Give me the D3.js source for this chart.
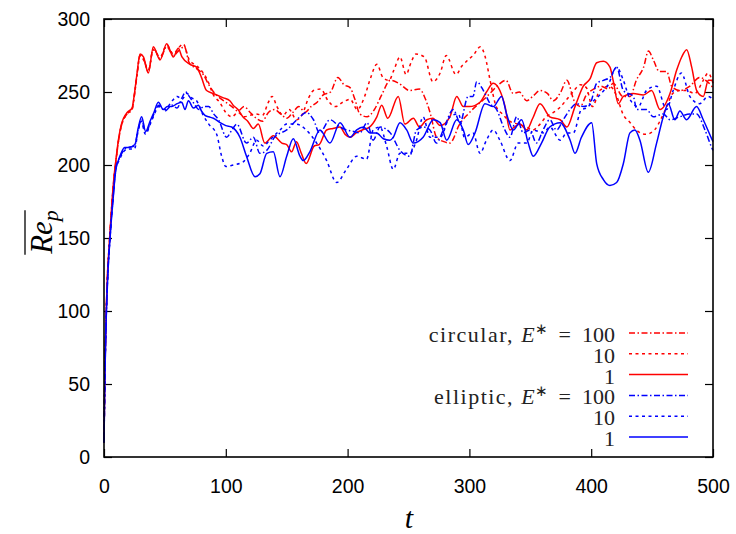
<!DOCTYPE html>
<html>
<head>
<meta charset="utf-8">
<script src="https://cdn.jsdelivr.net/npm/d3@7"></script>
<style>
  body { margin: 0; background: #fff; }
  svg { display: block; }
</style>
</head>
<body>
<div id="chart"></div>
<script>
// Time series of mean particle Reynolds number, [t, Re_p] pairs
const circ100 = [[0,10],[0.5,44],[1,69],[1.5,89],[2,104],[3,127],[4,141],[5,154],[6,167],[7,179],[8,189],[10,204],[12,217],[14,226],[16,231],[19,235],[23,238],[25,248],[27,261],[29.6,275],[32.4,273],[36.4,264],[40.5,280],[46,273],[51.5,281],[57,275],[61,278],[66,281],[70,270],[76,266],[81.5,262],[86,255],[90,250],[95,246],[100,243],[105,240],[110,237],[115,240],[120,236],[125,232],[130,230],[135,236],[140,238],[145,235],[150,232],[155,236],[160,240],[165,236],[170,240],[175,243],[180,248],[186,250],[192,260],[197,255],[202,253],[206,245],[210,235],[216,233],[222,238],[228,248],[235,258],[242,256],[251,251],[259,252],[264,245],[268,235],[273,219],[279,216],[284,215],[292,228],[299,235],[305,240],[312,245],[318,250],[324,255],[330,258],[336,249],[341,250],[347,244],[352,247],[358,251],[364,249],[369,244],[375,250],[380,258],[386,244],[391,240],[396,248],[402,252],[408,254],[414,252],[418,256],[426,247],[432,247],[437,258],[443,267],[447,278],[451,272],[456,264],[462,264],[466,254],[473,251],[481,254],[489,260],[494,258],[499,254],[500,253]];

const circ10 = [[0,10],[0.5,44],[1,69],[1.5,89],[2,104],[3,127],[4,141],[5,154],[6,167],[7,179],[8,189],[10,204],[12,217],[14,226],[16,231],[19,235],[23,238],[25,248],[27,261],[29.6,275],[32.4,272],[36.4,265],[40.5,279],[46,274],[51.5,282],[57,276],[61,280],[65,283],[70,272],[76,268],[81.5,263],[85,258],[89.8,248],[95,243],[100,236],[105,233],[110,236],[115,233],[120,234],[125,235],[130,234],[135,243],[138,247],[142,240],[147,234],[152,238],[158,231],[163,235],[168,246],[172,251],[178,252],[184,244],[190,240],[196,243],[202,245],[208,238],[214,247],[219,260],[224,269],[229,260],[234,258],[238,265],[243,274],[248,262],[252,270],[256,276],[263,274],[270,257],[276,263],[281,275],[289,262],[294,268],[299,272],[303,275],[309,281],[313,274],[317,258],[322,240],[327,235],[333,230],[340,228],[347,226],[352,224],[358,228],[363,233],[369,236],[375,240],[380,245],[385,250],[391,255],[396,253],[401,240],[407,251],[415,254],[421,247],[426,235],[432,229],[437,224],[445,221],[452,224],[457,231],[462,240],[467,249],[473,251],[478,251],[485,249],[492,258],[496,263],[500,256]];

const circ1 = [[0,10],[0.5,45],[1,70],[1.5,90],[2,105],[3,128],[4,142],[5,155],[6,168],[7,180],[8,190],[10,205],[12,218],[14,227],[16,232],[19,236],[23,239],[25,249],[27,262],[29.6,276],[32.4,274],[36.4,263],[40.5,281],[46,272],[51.5,283],[57,274],[61,280],[64,274],[70.6,269],[76,267],[80,260],[84.2,251],[89.8,249],[98,246],[103.3,244],[106,241],[110,238],[114,233],[118,230],[122.6,225],[126.7,228],[132,215],[139,220],[146,215],[150,214],[154,209],[158,216],[162,208],[166,201],[172.6,213],[176.7,214],[182.8,224],[188,225],[193.7,226],[198,221],[202,219],[207,222],[212,224],[218,226],[224,233],[228,241],[233,232],[241.6,247],[247,228],[254,232],[259,226],[265,231],[270,232],[276,227],[284,233],[289.6,247],[295,240],[300,240],[308.7,243],[314,250],[319.6,256],[325,251],[329.3,240],[333.3,224],[337,226],[341.5,228],[347,224],[352,232],[358,242],[366,233],[374.5,231],[380,226],[386.7,240],[393.5,254],[399,259],[404.5,270],[410,271],[415.4,267],[418,258],[422.3,242],[426.4,247],[434.6,249],[442.8,248],[449.6,251],[456.5,238],[464.7,249],[470.2,265],[474.3,274],[478.4,279],[482.5,267],[486.6,251],[492,247],[496.2,258],[500,258]];

const ell100 = [[0,10],[0.5,41],[1,66],[1.5,86],[2,101],[3,123],[4,139],[5,151],[6,163],[7,173],[8,183],[9,193],[10,199],[11.7,203],[14,207],[17,211],[20,212],[25,213],[28,224],[30.9,231],[34.2,222],[38,229],[41,235],[45,241],[50,237],[56,241],[60,239],[64,246],[67,250],[70,247],[74,242],[78,238],[82,240],[86,240],[90,235],[94,231],[100.7,219],[105,224],[109,228],[117,215],[122.6,219],[128,208],[133.6,210],[140,219],[150,224],[160.9,233],[166,236],[172,231],[177,222],[185.5,231],[193.8,226],[199,224],[205,223],[210,222],[216,229],[221,217],[226.6,226],[235,222],[243,210],[251,206],[256.6,224],[262,226],[267.6,224],[273,215],[278.6,224],[286.8,238],[292.3,229],[299,247],[303,247],[306,257],[311.5,251],[317,242],[322.4,238],[328,226],[333.3,219],[338.8,233],[344.2,222],[349.7,224],[355,215],[360.5,224],[366,231],[371.5,224],[377,231],[382.6,238],[388,242],[393.5,240],[399,242],[404.5,256],[410,258],[415.4,260],[420.9,267],[426.4,251],[434.6,247],[437.4,238],[445.4,238],[451,233],[459.2,235],[464.7,231],[472.8,233],[481,235],[486.5,235],[493.4,224],[498.9,212],[500,210]];

const ell10 = [[0,10],[0.5,41],[1,66],[1.5,86],[2,101],[3,123],[4,139],[5,151],[6,163],[7,173],[8,183],[9,192],[10,198],[11.7,202],[14,206],[17,210],[20,211],[25,211],[28,223],[30.5,230],[34,221],[38,228],[41,234],[45,240],[50,238],[56,244],[60,247],[64,245],[68,249],[72,246],[76,244],[81.5,234],[86,228],[92.5,221],[96.6,206],[100,199],[106,200],[114,202],[119.6,208],[125.3,217],[130.8,213],[136,217],[144.5,224],[150,228],[158,228],[166,224],[174.6,215],[182.8,203],[191,188],[199,197],[207.5,206],[215.6,204],[221,224],[226.6,226],[232,213],[237.5,197],[243,208],[251,208],[256.6,217],[262,233],[267.6,219],[276,219],[284,233],[291,235],[296,219],[303,222],[308.7,208],[314,217],[319.6,224],[325,217],[333.3,203],[340,215],[347,215],[352.4,224],[360.5,222],[366,226],[374.5,217],[380,222],[385.3,222],[392,238],[396,239],[402,244],[407,248],[414,255],[420.9,267],[426.4,258],[431.8,245],[438.6,240],[445.4,251],[453.7,254],[461.8,238],[467.3,251],[474,263],[481,247],[489,242],[496,247],[500,245]];

const ell1 = [[0,10],[0.5,40],[1,65],[1.5,85],[2,100],[3,122],[4,138],[5,150],[6,162],[7,172],[8,182],[9,192],[10,198],[11.7,203],[14,208],[17,212],[20,212],[25.4,214],[28,225],[30.9,233],[34.2,223],[37.8,230],[41,236],[44.6,243],[48.7,238],[52,240],[55.6,240],[60,242],[63.8,243],[66.5,238],[69.3,244],[73.4,239],[77.5,241],[80,237],[82.9,234],[86,233],[89.8,232],[95.3,229],[100,227],[104.8,226],[111.6,219],[117,206],[124,192],[128,194],[133.6,208],[139,209],[144.5,192],[150,206],[155.4,218],[160.9,206],[163.6,203],[169,209],[177.3,224],[185.5,215],[193.8,229],[202,219],[207.5,224],[213,226],[218.4,222],[223.8,222],[229.3,218],[234.8,217],[237.5,219],[243,229],[248.5,224],[254,215],[262,219],[270.4,231],[276,229],[281.4,217],[289.6,231],[295,224],[299,214],[304.6,222],[312.8,242],[319.6,240],[326.4,247],[330.5,235],[336,224],[342.8,231],[348.3,215],[352.4,206],[359.2,215],[366,226],[374.5,229],[382.7,217],[386.7,208],[392,219],[400.4,229],[404.5,201],[410,190],[415.4,186],[420.9,188],[426.4,201],[431.8,222],[435.9,224],[440,217],[446.9,195],[453.7,215],[459.2,233],[463.3,242],[468.7,231],[472.8,237],[478.3,231],[486.5,240],[492,231],[498.9,218],[500,216]];

const xTicks = [0, 100, 200, 300, 400, 500];
const yTicks = [0, 50, 100, 150, 200, 250, 300];

// legend rows, in plot order
const series = [
  { data: circ100, shape: 'circular', value: '100', color: '#ff0000', dash: '6,2.5,1.5,2.5' },
  { data: circ10,  shape: '',         value: '10',  color: '#ff0000', dash: '3,3.5' },
  { data: circ1,   shape: '',         value: '1',   color: '#ff0000', dash: null },
  { data: ell100,  shape: 'elliptic', value: '100', color: '#0000ff', dash: '6,2.5,1.5,2.5' },
  { data: ell10,   shape: '',         value: '10',  color: '#0000ff', dash: '3,3.5' },
  { data: ell1,    shape: '',         value: '1',   color: '#0000ff', dash: null }
];

const W = 736, H = 534;
const plot = { left: 104, right: 713, top: 19, bottom: 457 };

const svg = d3.select('#chart').append('svg')
  .attr('width', W)
  .attr('height', H);

const x = d3.scaleLinear().domain([0, 500]).range([plot.left, plot.right]);
const y = d3.scaleLinear().domain([0, 300]).range([plot.bottom, plot.top]);

const tickFont = '"Liberation Sans", Arial, sans-serif';
const mathFont = '"Liberation Serif", "Times New Roman", serif';

// Axes: ticks point inward, mirrored on top and right
function styleAxis(g) {
  g.select('.domain').remove();
  g.selectAll('.tick line').attr('stroke', '#000').attr('stroke-width', 1.2);
  g.selectAll('.tick text').attr('fill', '#000').style('font-family', tickFont).style('font-size', '19.5px');
}

svg.append('g')
  .attr('transform', `translate(0,${plot.bottom})`)
  .call(d3.axisBottom(x).tickValues(xTicks).tickSizeInner(-8).tickSizeOuter(0).tickPadding(22))
  .call(styleAxis);

svg.append('g')
  .attr('transform', `translate(0,${plot.top})`)
  .call(d3.axisTop(x).tickValues(xTicks).tickSizeInner(-8).tickSizeOuter(0).tickFormat(''))
  .call(styleAxis);

svg.append('g')
  .attr('transform', `translate(${plot.left},0)`)
  .call(d3.axisLeft(y).tickValues(yTicks).tickSizeInner(-8).tickSizeOuter(0).tickPadding(14))
  .call(styleAxis);

svg.append('g')
  .attr('transform', `translate(${plot.right},0)`)
  .call(d3.axisRight(y).tickValues(yTicks).tickSizeInner(-8).tickSizeOuter(0).tickFormat(''))
  .call(styleAxis);

// Curves
const line = d3.line()
  .x(d => x(d[0]))
  .y(d => y(d[1]))
  .curve(d3.curveMonotoneX);

const curves = svg.append('g');
series.forEach(s => {
  curves.append('path')
    .datum(s.data)
    .attr('d', line)
    .attr('fill', 'none')
    .attr('stroke', s.color)
    .attr('stroke-width', 1.5)
    .attr('stroke-dasharray', s.dash)
    .attr('stroke-linejoin', 'round');
});

// Frame
svg.append('rect')
  .attr('x', plot.left)
  .attr('y', plot.top)
  .attr('width', plot.right - plot.left)
  .attr('height', plot.bottom - plot.top)
  .attr('fill', 'none')
  .attr('stroke', '#000')
  .attr('stroke-width', 1.6);

// Legend
const legend = svg.append('g');
const legendTop = 333, legendStep = 20.8;
series.forEach((s, i) => {
  const ly = legendTop + i * legendStep;
  const txt = legend.append('text')
    .attr('x', 615)
    .attr('y', ly + 9)
    .attr('text-anchor', 'end')
    .style('font-family', mathFont)
    .style('font-size', '22px')
    .attr('fill', '#222');
  if (s.shape) {
    txt.append('tspan').style('letter-spacing', '1.5px').text(s.shape + ',\u00a0');
    txt.append('tspan').style('font-style', 'italic').text('E');
    txt.append('tspan').attr('dy', -8).style('font-size', '15px').text('∗');
    txt.append('tspan').attr('dy', 8).text('\u00a0\u00a0=\u00a0\u00a0' + s.value);
  } else {
    txt.text(s.value);
  }
  legend.append('line')
    .attr('x1', 629).attr('x2', 688)
    .attr('y1', ly).attr('y2', ly)
    .attr('stroke', s.color)
    .attr('stroke-width', 1.5)
    .attr('stroke-dasharray', s.dash);
});

// Axis titles
svg.append('text')
  .attr('x', 409)
  .attr('y', 528)
  .attr('text-anchor', 'middle')
  .style('font-family', mathFont)
  .style('font-style', 'italic')
  .style('font-size', '30px')
  .text('t');

const yTitle = svg.append('g').attr('transform', 'translate(52,232) rotate(-90)');
const yText = yTitle.append('text')
  .attr('text-anchor', 'middle')
  .style('font-family', mathFont)
  .style('font-style', 'italic')
  .style('font-size', '31px');
yText.append('tspan').text('Re');
yText.append('tspan').attr('dy', 6).style('font-size', '22px').text('p');

const bb = yText.node().getBBox();
yTitle.append('line')
  .attr('x1', bb.x).attr('x2', bb.x + bb.width)
  .attr('y1', -27).attr('y2', -27)
  .attr('stroke', '#000')
  .attr('stroke-width', 1.3);
</script>
</body>
</html>
